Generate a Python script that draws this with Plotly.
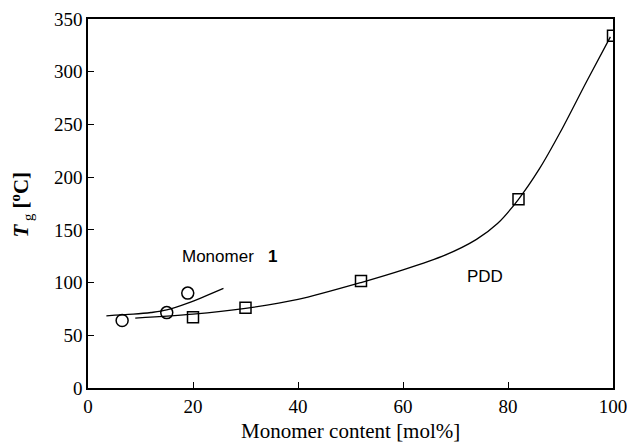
import plotly.graph_objects as go

# Measured points
mono_x = [6.5, 15, 19]
mono_y = [64, 71.5, 90]
pdd_x = [20, 30, 52, 82, 100]
pdd_y = [67, 76, 101.5, 179, 334]

# Fitted curves
mono_fit_x = [3.5, 8.6, 12, 15, 19, 25.8]
mono_fit_y = [68.5, 70.0, 71.6, 74, 80.5, 94.5]
pdd_fit_x = [9, 20, 30, 40, 52, 60, 68, 74, 78, 82, 86, 90, 95, 99.5]
pdd_fit_y = [66.2, 70, 75.6, 84, 100, 112, 126, 141, 156, 179, 208, 243, 291, 333]

serif = "Liberation Serif, Times New Roman, serif"
sans = "Liberation Sans, Arial, sans-serif"

fig = go.Figure()
fig.add_trace(go.Scatter(x=mono_fit_x, y=mono_fit_y, mode="lines",
                         line=dict(color="black", width=1.3, shape="spline", smoothing=1.0),
                         showlegend=False, hoverinfo="skip"))
fig.add_trace(go.Scatter(x=pdd_fit_x, y=pdd_fit_y, mode="lines",
                         line=dict(color="black", width=1.3, shape="spline", smoothing=0.8),
                         showlegend=False, hoverinfo="skip"))
fig.add_trace(go.Scatter(x=mono_x, y=mono_y, mode="markers",
                         marker=dict(symbol="circle-open", size=12, color="black",
                                     line=dict(width=1.5, color="black")),
                         showlegend=False))
fig.add_trace(go.Scatter(x=pdd_x, y=pdd_y, mode="markers",
                         marker=dict(symbol="square-open", size=11, color="black",
                                     line=dict(width=1.5, color="black")),
                         showlegend=False))

axis_common = dict(showline=True, linecolor="black", linewidth=1.5, mirror=True,
                   ticks="inside", ticklen=6, tickwidth=1.2, tickcolor="black",
                   showgrid=False, zeroline=False, automargin=False,
                   ticklabeloverflow="allow",
                   tickfont=dict(family=serif, size=19, color="black"))

fig.update_layout(
    width=627, height=442,
    margin=dict(l=88, r=14, t=19, b=54, autoexpand=False),
    paper_bgcolor="white", plot_bgcolor="white",
    font=dict(family=serif, size=19, color="black"),
    xaxis=dict(range=[0, 100], tickvals=[0, 20, 40, 60, 80, 100], **axis_common),
    yaxis=dict(range=[0, 350], tickvals=[0, 50, 100, 150, 200, 250, 300, 350], **axis_common),
    annotations=[
        dict(text="Monomer content [mol%]", xref="paper", yref="paper",
             x=0.5, y=0, yshift=-43, showarrow=False,
             font=dict(family=serif, size=21, color="black"), yanchor="middle"),
        dict(text="<b><i>T</i></b><sub> g</sub><b> [<sup>o</sup>C]</b>", xref="paper", yref="paper",
             x=0, xshift=-67, y=0.5, yshift=-1, showarrow=False, textangle=-90,
             font=dict(family=serif, size=21, color="black"), xanchor="center", yanchor="middle"),
        dict(text="Monomer\u00a0\u00a0\u00a0<b>1</b>", x=17.5, y=124.3, xref="x", yref="y",
             showarrow=False, xanchor="left",
             font=dict(family=sans, size=17, color="black")),
        dict(text="PDD", x=71.9, y=105.6, xref="x", yref="y",
             showarrow=False, xanchor="left",
             font=dict(family=sans, size=17, color="black")),
    ],
)

fig.write_html("out.html", config={"displayModeBar": False},
               post_script="document.body.style.margin='0';document.body.style.padding='0';")
